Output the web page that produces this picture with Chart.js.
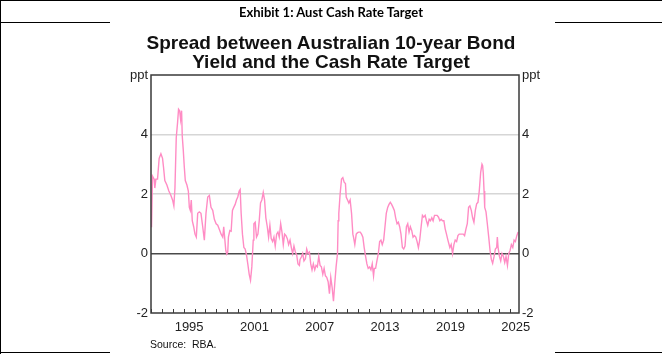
<!DOCTYPE html>
<html>
<head>
<meta charset="utf-8">
<script src="https://cdn.jsdelivr.net/npm/chart.js@4.4.0/dist/chart.umd.min.js"></script>
<style>
html, body { margin: 0; padding: 0; background: #fff; }
#page { position: relative; width: 662px; height: 354px; overflow: hidden; }
.rule { position: absolute; background: #000; }
#header { position: absolute; left: 0; top: 4px; width: 662px; text-align: center; font: bold 13px Lato, sans-serif; color: #000; }
#title { position: absolute; left: 0; top: 33px; width: 662px; text-align: center; font: bold 19px "Liberation Sans", Arial, sans-serif; line-height: 19px; color: #111; }
#source { position: absolute; left: 150px; top: 338px; font: 10.5px "Liberation Sans", Arial, sans-serif; color: #111; }
canvas { position: absolute; left: 0; top: 0; }
</style>
</head>
<body>
<div id="page">
  <canvas id="spreadChart" width="662" height="354"></canvas>
  <div class="rule" style="left:0;top:0;width:662px;height:1px"></div>
  <div class="rule" style="left:0;top:0;width:1px;height:354px"></div>
  <div class="rule" style="left:0;top:22px;width:110px;height:1px"></div>
  <div class="rule" style="left:555px;top:22px;width:107px;height:1px"></div>
  <div class="rule" style="left:0;top:352px;width:110px;height:1px"></div>
  <div class="rule" style="left:555px;top:352px;width:107px;height:1px"></div>
  <div id="header">Exhibit 1: Aust Cash Rate Target</div>
  <div id="title">Spread between Australian 10-year Bond<br>Yield and the Cash Rate Target</div>
  <div id="source">Source:&nbsp;&nbsp;RBA.</div>
</div>
<script>
// monthly-ish readings, decimal year -> spread (ppt)
const dates = [
  1992.05, 1992.14, 1992.29, 1992.35, 1992.45, 1992.60, 1992.75, 1992.91, 1993.06, 1993.15,
  1993.27, 1993.46, 1993.64, 1993.83, 1993.98, 1994.10, 1994.20, 1994.32, 1994.44, 1994.53,
  1994.63, 1994.72, 1994.81, 1994.87, 1994.96, 1995.06, 1995.15, 1995.30, 1995.43, 1995.52,
  1995.61, 1995.70, 1995.79, 1995.92, 1996.04, 1996.16, 1996.29, 1996.44, 1996.59, 1996.75,
  1996.90, 1997.05, 1997.21, 1997.36, 1997.51, 1997.67, 1997.82, 1997.98, 1998.13, 1998.29,
  1998.44, 1998.59, 1998.68, 1998.87, 1998.96, 1999.05, 1999.11, 1999.24, 1999.36, 1999.48,
  1999.60, 1999.73, 1999.85, 1999.97, 2000.10, 2000.19, 2000.28, 2000.40, 2000.53, 2000.65,
  2000.77, 2000.89, 2001.02, 2001.14, 2001.26, 2001.39, 2001.45, 2001.57, 2001.69, 2001.82,
  2001.94, 2002.06, 2002.18, 2002.31, 2002.43, 2002.55, 2002.68, 2002.80, 2002.92, 2003.04,
  2003.17, 2003.29, 2003.41, 2003.54, 2003.66, 2003.78, 2003.91, 2004.03, 2004.15, 2004.27,
  2004.40, 2004.52, 2004.64, 2004.77, 2004.89, 2005.01, 2005.13, 2005.26, 2005.38, 2005.50,
  2005.63, 2005.69, 2005.81, 2005.93, 2006.05, 2006.18, 2006.30, 2006.42, 2006.55, 2006.67,
  2006.79, 2006.91, 2007.04, 2007.16, 2007.28, 2007.41, 2007.53, 2007.65, 2007.78, 2007.90,
  2008.02, 2008.14, 2008.27, 2008.39, 2008.51, 2008.64, 2008.76, 2008.88, 2009.00, 2009.13,
  2009.19, 2009.25, 2009.37, 2009.50, 2009.62, 2009.74, 2009.86, 2009.93, 2010.05, 2010.17,
  2010.29, 2010.42, 2010.54, 2010.60, 2010.72, 2010.85, 2010.97, 2011.09, 2011.22, 2011.34,
  2011.46, 2011.58, 2011.71, 2011.83, 2011.95, 2012.08, 2012.20, 2012.32, 2012.44, 2012.51,
  2012.63, 2012.75, 2012.88, 2013.00, 2013.12, 2013.24, 2013.37, 2013.49, 2013.61, 2013.74,
  2013.86, 2013.98, 2014.10, 2014.23, 2014.35, 2014.47, 2014.60, 2014.72, 2014.84, 2014.96,
  2015.09, 2015.21, 2015.33, 2015.46, 2015.58, 2015.70, 2015.82, 2015.95, 2016.07, 2016.19,
  2016.32, 2016.44, 2016.56, 2016.68, 2016.81, 2016.93, 2017.05, 2017.18, 2017.30, 2017.42,
  2017.55, 2017.67, 2017.79, 2017.91, 2018.04, 2018.16, 2018.28, 2018.41, 2018.53, 2018.65,
  2018.77, 2018.90, 2019.02, 2019.14, 2019.27, 2019.45, 2019.57, 2019.70, 2019.82, 2019.94,
  2020.07, 2020.19, 2020.31, 2020.43, 2020.56, 2020.68, 2020.80, 2020.93, 2021.05, 2021.17,
  2021.29, 2021.42, 2021.54, 2021.66, 2021.79, 2021.91, 2022.03, 2022.15, 2022.28, 2022.40,
  2022.46, 2022.52, 2022.59, 2022.65, 2022.77, 2022.89, 2023.02, 2023.14, 2023.26, 2023.38,
  2023.51, 2023.63, 2023.75, 2023.81, 2023.88, 2024.00, 2024.12, 2024.24, 2024.37, 2024.49,
  2024.61, 2024.74, 2024.86, 2024.98, 2025.10, 2025.23, 2025.35, 2025.47, 2025.60, 2025.72
];
const spread = [
  0.88, 2.6, 2.5, 2.2, 2.5, 2.5, 3.2, 3.35, 3.2, 2.9,
  2.45, 2.3, 2.1, 1.95, 1.8, 1.6, 2.2, 3.9, 4.4, 4.85,
  4.8, 4.5, 4.8, 3.95, 3.5, 2.9, 2.45, 2.3, 2.1, 1.55,
  1.45, 1.8, 1.1, 0.9, 0.65, 0.55, 1.35, 1.4, 1.35, 0.9,
  0.45, 1.35, 1.9, 1.95, 1.55, 1.45, 1.15, 1.0, 0.95, 0.8,
  0.65, 0.55, 0.9, 0.1, -0.02, 0.05, 0.55, 0.77, 0.75, 1.45,
  1.55, 1.65, 1.8, 1.9, 2.1, 2.15, 1.35, 0.65, 0.2, 0.15,
  -0.05, -0.35, -0.7, -0.9, -0.45, 0.45, 1.0, 1.05, 0.55, 0.65,
  1.1, 1.7, 1.8, 2.05, 1.8, 1.2, 0.9, 0.55, 0.95, 0.5,
  0.4, 0.55, 0.25, 0.65, 0.72, 0.55, 1.0, 0.72, 0.3, 0.65,
  0.6, 0.5, 0.3, 0.45, 0.2, 0.0, 0.25, 0.05, -0.05, -0.35,
  -0.4, -0.2, -0.12, 0.0, -0.25, -0.18, 0.15, 0.0, 0.05, -0.35,
  -0.55, -0.35, -0.55, -0.4, -0.45, -0.1, -0.4, -0.45, -0.7, -0.5,
  -0.75, -0.8, -0.95, -1.35, -0.8, -1.15, -1.6, -1.0, -0.45, 0.0,
  1.1, 1.35, 2.0, 2.5, 2.55, 2.4, 2.35, 1.9, 1.8, 1.7,
  1.8, 1.35, 0.65, 0.55, 0.3, 0.65, 0.7, 0.72, 0.72, 0.65,
  0.55, 0.2, -0.1, -0.35, -0.5, -0.45, -0.55, -0.35, -0.75, -0.5,
  -0.5, -0.25, 0.0, 0.4, 0.45, 0.3, 0.45, 0.9, 1.35, 1.55,
  1.65, 1.72, 1.65, 1.55, 1.45, 1.2, 1.0, 1.05, 0.9, 0.65,
  0.2, 0.15, 0.25, 0.9, 1.0, 0.72, 0.9, 0.77, 0.55, 0.6,
  0.55, 0.4, 0.2, 0.45, 0.9, 1.28, 1.22, 1.28, 1.1, 0.95,
  1.15, 1.1, 1.2, 1.1, 1.28, 1.28, 1.28, 1.22, 1.1, 1.15,
  1.1, 1.1, 0.83, 0.65, 0.45, 0.2, 0.3, 0.0, 0.3, 0.45,
  0.4, 0.6, 0.65, 0.65, 0.65, 0.65, 0.6, 0.83, 1.0, 1.55,
  1.6, 1.45, 1.2, 1.05, 1.45, 1.67, 1.72, 2.1, 2.73, 3.0,
  2.95, 2.7, 2.1, 1.55, 1.4, 1.0, 0.55, 0.1, -0.2, -0.33,
  -0.1, 0.15, 0.2, 0.55, 0.2, -0.1, -0.25, 0.0, -0.1, -0.3,
  -0.1, -0.4, 0.0, 0.1, 0.3, 0.2, 0.45, 0.4, 0.6, 0.72
];
const yearLabels = [1995, 2001, 2007, 2013, 2019, 2025];
const yTicks = [-2, 0, 2, 4, 6];
const xMin = 1992, xMax = 2025.8;

const fontFamily = '"Liberation Sans", Arial, sans-serif';
const axisColor = '#3a3a3a';

// y tick label: top tick shows the unit instead of 6
function yLabel(v) {
  return v === 6 ? 'ppt' : String(v);
}

function gridColor(c) {
  const v = c.tick.value;
  if (v === 0) return '#4a4a4a';
  if (v === 2 || v === 4) return '#d6d6d6';
  return 'rgba(0,0,0,0)';
}

// box around the plot + small year ticks pointing inward
const framePlugin = {
  id: 'frame',
  afterDatasetsDraw(chart) {
    const { ctx, chartArea: a, scales } = chart;
    ctx.save();
    ctx.strokeStyle = axisColor;
    ctx.lineWidth = 1.5;
    ctx.strokeRect(a.left, a.top, a.right - a.left, a.bottom - a.top);
    ctx.lineWidth = 1;
    ctx.beginPath();
    for (let yr = Math.ceil(xMin); yr <= Math.floor(xMax); yr++) {
      const px = Math.round(scales.x.getPixelForValue(yr)) + 0.5;
      ctx.moveTo(px, a.bottom);
      ctx.lineTo(px, a.bottom - 4);
    }
    ctx.stroke();
    ctx.restore();
  }
};

const ctx = document.getElementById('spreadChart').getContext('2d');
const spreadChart = new Chart(ctx, {
  type: 'line',
  data: {
    datasets: [{
      data: dates.map((d, i) => ({ x: d, y: spread[i] })),
      borderColor: '#ff8cc4',
      borderWidth: 1.4,
      pointRadius: 0,
      tension: 0,
      fill: false
    }]
  },
  options: {
    responsive: false,
    animation: false,
    layout: { padding: { left: 121, right: 113, top: 75, bottom: 11 } },
    plugins: { legend: { display: false }, tooltip: { enabled: false }, title: { display: false } },
    scales: {
      x: {
        type: 'linear',
        min: xMin,
        max: xMax,
        grid: { display: false, drawTicks: false },
        border: { display: false },
        afterBuildTicks: s => { s.ticks = yearLabels.map(y => ({ value: y + 0.5 })); },
        afterFit: s => { s.height = 30; },
        ticks: {
          callback: v => String(Math.floor(v)),
          padding: 7,
          color: '#222',
          font: { family: fontFamily, size: 13 },
          maxRotation: 0,
          autoSkip: false
        }
      },
      y: {
        position: 'left',
        min: -2,
        max: 6,
        afterBuildTicks: s => { s.ticks = yTicks.map(v => ({ value: v })); },
        afterFit: s => { s.width = 30; },
        grid: { drawTicks: false, color: gridColor, lineWidth: 1.6 },
        border: { display: false },
        ticks: { callback: yLabel, padding: 3, color: '#222', font: { family: fontFamily, size: 13 } }
      },
      y2: {
        position: 'right',
        min: -2,
        max: 6,
        afterBuildTicks: s => { s.ticks = yTicks.map(v => ({ value: v })); },
        afterFit: s => { s.width = 30; },
        grid: { display: false, drawTicks: false },
        border: { display: false },
        ticks: { callback: yLabel, padding: 3, color: '#222', font: { family: fontFamily, size: 13 } }
      }
    }
  },
  plugins: [framePlugin]
});
</script>
</body>
</html>
